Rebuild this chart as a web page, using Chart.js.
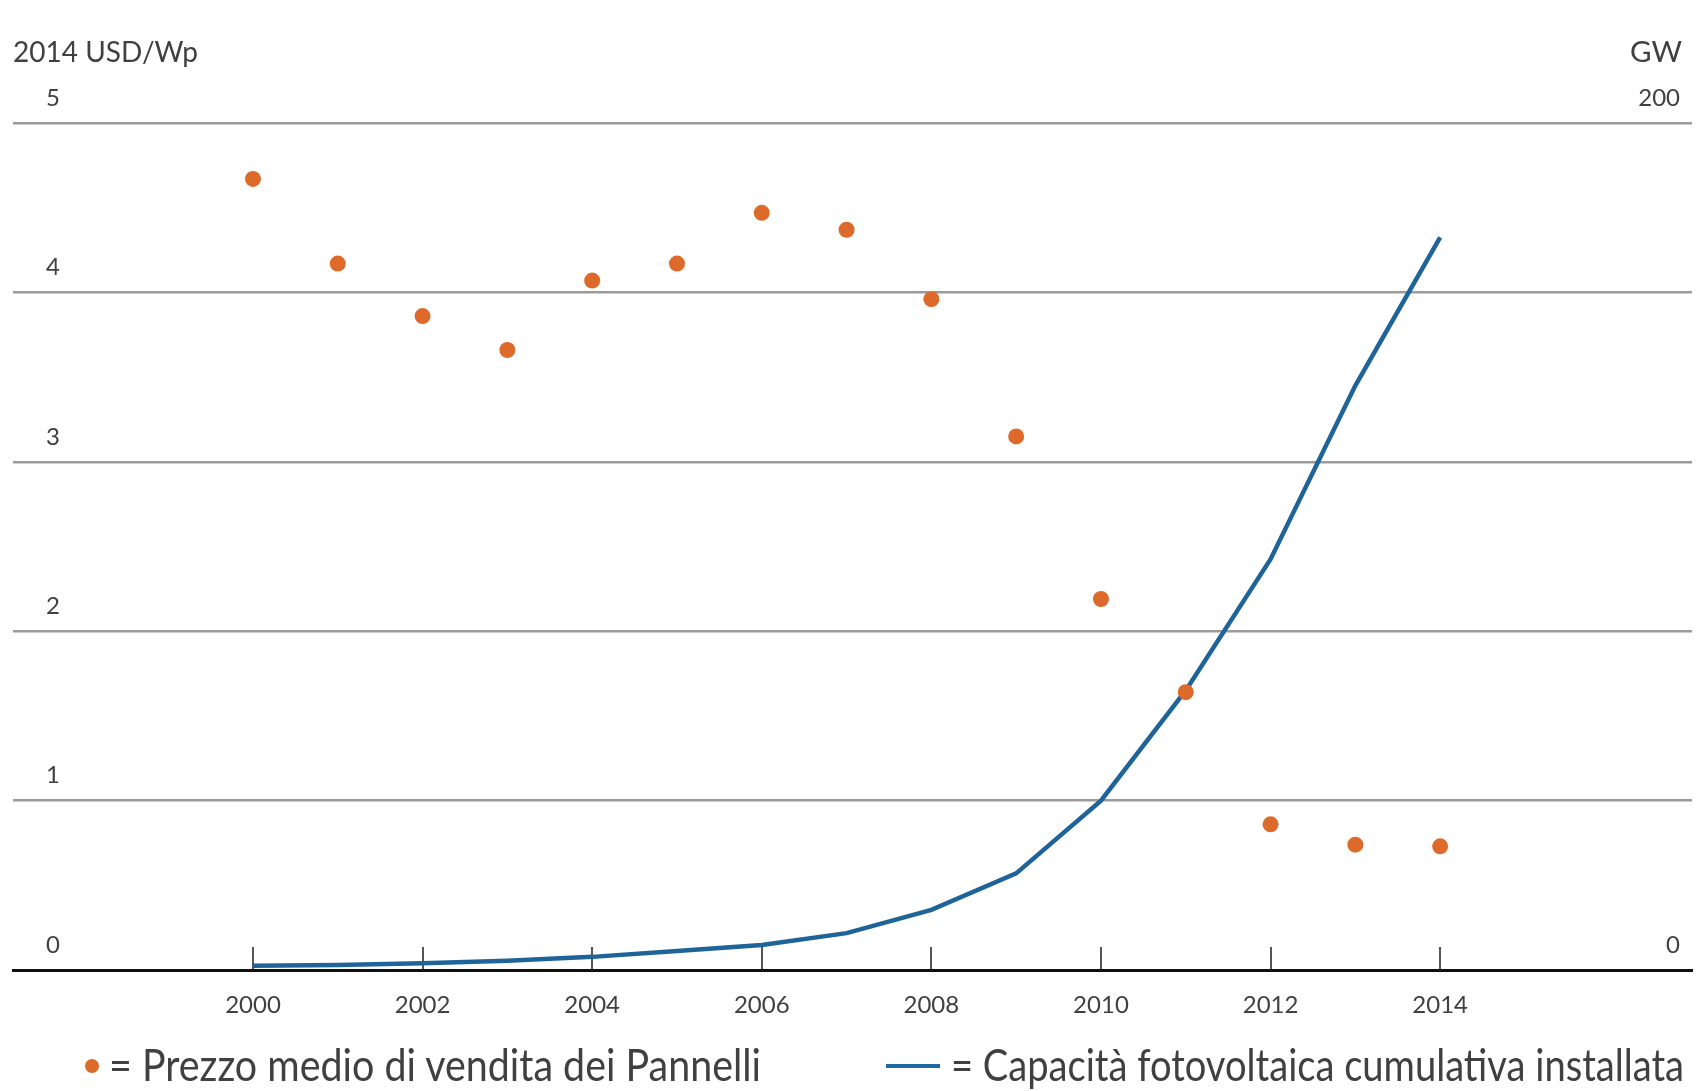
<!DOCTYPE html>
<html>
<head>
<meta charset="utf-8">
<script src="https://cdn.jsdelivr.net/npm/chart.js@4.4.1/dist/chart.umd.min.js"></script>
<style>
body { margin: 0; background: #fff; font-family: Lato, "Open Sans", sans-serif; }
#wrap { position: relative; width: 1704px; height: 1091px; overflow: hidden; }
.lbl { position: absolute; color: #404040; line-height: 1; white-space: nowrap; transform-origin: left top; }
.dot { position: absolute; width: 14px; height: 14px; border-radius: 50%; background: #dd6a2a; }
.swatch { position: absolute; height: 4px; background: #1f6aa3; }
</style>
</head>
<body>
<div id="wrap">
  <canvas id="pvChart" width="1704" height="1091"></canvas>
  <div class="lbl" style="left:13px;top:37px;font-size:28px">2014 USD/Wp</div>
  <div class="lbl" style="left:1630px;top:37px;font-size:28px" data-w="52">GW</div>
  <span class="dot" style="left:85px;top:1059px"></span>
  <div class="lbl" style="left:109px;top:1042px;font-size:44px" data-w="652">= Prezzo medio di vendita dei Pannelli</div>
  <span class="swatch" style="left:886px;top:1064px;width:54px"></span>
  <div class="lbl" style="left:951px;top:1042px;font-size:44px" data-w="733">= Capacità fotovoltaica cumulativa installata</div>
</div>
<script>
const years = [2000, 2001, 2002, 2003, 2004, 2005, 2006, 2007, 2008, 2009, 2010, 2011, 2012, 2013, 2014];
// average module selling price, 2014 USD/Wp (left axis)
const priceUsdWp = [4.67, 4.17, 3.86, 3.66, 4.07, 4.17, 4.47, 4.37, 3.96, 3.15, 2.19, 1.64, 0.86, 0.74, 0.73];
// cumulative installed PV capacity, GW (right axis)
const capacityGw = [1.0, 1.2, 1.6, 2.2, 3.1, 4.5, 5.9, 8.7, 14.2, 22.8, 40, 66, 97, 138, 173];

const xTickYears = [2000, 2002, 2004, 2006, 2008, 2010, 2012, 2014];
const leftTicks = [0, 1, 2, 3, 4, 5];
const rightTicks = [0, 200];

Chart.defaults.font.family = 'Lato, "Open Sans", sans-serif';
Chart.defaults.color = '#404040';

const ctx = document.getElementById('pvChart').getContext('2d');

new Chart(ctx, {
    type: 'scatter',
    data: {
        datasets: [
            {
                label: 'Prezzo medio di vendita dei Pannelli',
                data: years.map((y, i) => ({ x: y, y: priceUsdWp[i] })),
                backgroundColor: '#dd6a2a',
                borderWidth: 0,
                pointRadius: 8,
                pointHoverRadius: 8,
                yAxisID: 'y',
                order: 0
            },
            {
                type: 'line',
                label: 'Capacità fotovoltaica cumulativa installata',
                data: years.map((y, i) => ({ x: y, y: capacityGw[i] })),
                borderColor: '#1f6499',
                borderWidth: 4.5,
                pointRadius: 0,
                pointHoverRadius: 0,
                fill: false,
                tension: 0,
                yAxisID: 'y2',
                order: 1
            }
        ]
    },
    options: {
        responsive: false,
        animation: false,
        layout: { padding: { left: 13, right: 12, top: 123, bottom: 0 } },
        plugins: {
            legend: { display: false },
            tooltip: { enabled: false }
        },
        scales: {
            x: {
                type: 'linear',
                min: 1997.17,
                max: 2016.97,
                afterBuildTicks: (s) => { s.ticks = xTickYears.map(v => ({ value: v })); },
                afterFit: (s) => { s.height = 121; },
                grid: {
                    drawOnChartArea: false,
                    drawTicks: true,
                    tickLength: -23,
                    color: '#555',
                    lineWidth: 2
                },
                border: { display: true, color: '#111', width: 3 },
                ticks: {
                    padding: 44,
                    font: { size: 24 },
                    autoSkip: false,
                    maxRotation: 0,
                    callback: (v) => String(v)
                }
            },
            y: {
                position: 'left',
                min: 0,
                max: 5,
                afterBuildTicks: (s) => { s.ticks = leftTicks.map(v => ({ value: v })); },
                afterFit: (s) => { s.width = 0; },
                grid: {
                    drawTicks: false,
                    lineWidth: 2.5,
                    color: (c) => (c.tick && c.tick.value === 0) ? 'rgba(0,0,0,0)' : '#9b9b9b'
                },
                border: { display: false },
                ticks: { mirror: true, padding: 33, labelOffset: -25, font: { size: 24 } }
            },
            y2: {
                position: 'right',
                min: 0,
                max: 200,
                afterBuildTicks: (s) => { s.ticks = rightTicks.map(v => ({ value: v })); },
                afterFit: (s) => { s.width = 0; },
                grid: { drawOnChartArea: false, drawTicks: false },
                border: { display: false },
                ticks: { mirror: true, padding: -12, labelOffset: -25, font: { size: 24 } }
            }
        }
    }
});

// squeeze the condensed-looking captions to the reference widths
document.querySelectorAll('[data-w]').forEach(el => {
    const w = el.getBoundingClientRect().width;
    el.style.transform = 'scaleX(' + (el.dataset.w / w) + ')';
});
</script>
</body>
</html>
